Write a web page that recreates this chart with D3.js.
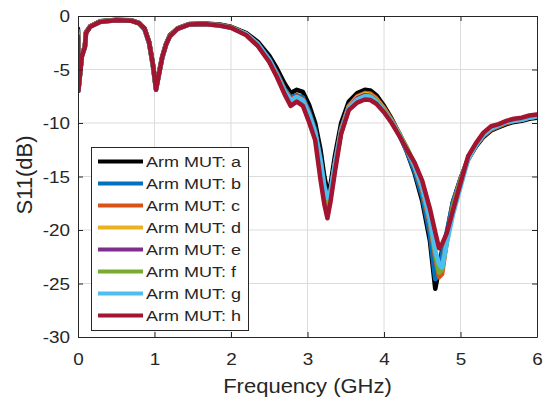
<!DOCTYPE html>
<html>
<head>
<meta charset="utf-8">
<script src="https://cdn.jsdelivr.net/npm/d3@7"></script>
<style>
body { margin: 0; background: #fff; }
text { font-family: Arial, "Liberation Sans", sans-serif; fill: #262626; }
</style>
</head>
<body>
<svg id="chart" width="544" height="401"></svg>
<script>
// frequency points (GHz)
var freq = [0, 0.005, 0.05, 0.09, 0.105, 0.16, 0.29, 0.5, 0.7, 0.8,
    0.87, 0.93, 0.98, 1.02, 1.06, 1.1, 1.15, 1.2, 1.3, 1.45,
    1.65, 1.85, 2.0,
    2.2, 2.35, 2.5, 2.6, 2.7, 2.78, 2.86, 2.94,
    3.02, 3.1, 3.17, 3.22, 3.26, 3.3, 3.36, 3.44,
    3.54, 3.65, 3.75, 3.82, 3.9, 4.0, 4.1, 4.2, 4.3,
    4.4, 4.5, 4.6, 4.67, 4.72, 4.76, 4.82, 4.9,
    5.0, 5.1, 5.2, 5.3, 5.4, 5.5, 5.6, 5.7, 5.8, 5.9, 6.0];

// S11 (dB) per arm
var armA = [-1.2, -6.9, -3.7, -2.8, -1.5, -0.95, -0.5, -0.35, -0.4, -0.65,
    -1.15, -2.4, -4.5, -6.7, -5.2, -3.8, -2.6, -1.8, -1.15, -0.75,
    -0.7, -0.8, -1.0,
    -1.6, -2.4, -3.7, -4.9, -6.3, -7.2, -6.9, -7.1,
    -8.3, -10.0, -12.5, -15.0, -16.4, -15.8, -13.0, -10.0,
    -8.0, -7.2, -6.9, -6.95, -7.4, -8.4, -9.6, -11.0, -12.7,
    -14.7, -17.3, -21.0, -25.5, -23.6, -21.8, -20.4, -17.4,
    -15.2, -13.4, -12.2, -11.3, -10.7, -10.4, -10.1, -9.9, -9.8, -9.6, -9.5];
var armB = [-1.35, -6.9, -3.7, -2.8, -1.55, -0.95, -0.5, -0.37, -0.42, -0.67,
    -1.2, -2.45, -4.6, -6.8, -5.3, -3.85, -2.65, -1.85, -1.15, -0.77,
    -0.72, -0.82, -1.05,
    -1.7, -2.6, -4.0, -5.3, -6.8, -7.6, -7.4, -7.6,
    -8.9, -10.6, -13.3, -15.9, -17.3, -16.4, -13.6, -10.5,
    -8.4, -7.6, -7.3, -7.35, -7.8, -8.7, -9.8, -11.1, -12.7,
    -14.5, -16.9, -20.4, -24.6, -24.3, -22.2, -20.2, -17.4,
    -15.2, -13.3, -12.1, -11.2, -10.6, -10.3, -10.0, -9.8, -9.7, -9.5, -9.4];
var armC = [-1.5, -6.95, -3.75, -2.85, -1.55, -0.97, -0.52, -0.38, -0.43, -0.68,
    -1.2, -2.5, -4.6, -6.8, -5.3, -3.9, -2.65, -1.85, -1.18, -0.78,
    -0.73, -0.85, -1.05,
    -1.7, -2.7, -4.1, -5.4, -6.9, -7.8, -7.5, -7.8,
    -9.1, -10.9, -13.7, -16.3, -17.6, -16.6, -13.8, -10.6,
    -8.4, -7.5, -7.2, -7.25, -7.7, -8.6, -9.7, -11.0, -12.5,
    -14.1, -16.3, -19.4, -22.6, -24.4, -24.1, -21.1, -17.8,
    -15.3, -13.4, -12.1, -11.2, -10.6, -10.3, -10.0, -9.8, -9.7, -9.5, -9.4];
var armD = [-1.55, -6.95, -3.75, -2.85, -1.58, -0.98, -0.53, -0.38, -0.44, -0.69,
    -1.25, -2.5, -4.7, -6.85, -5.35, -3.9, -2.7, -1.88, -1.18, -0.78,
    -0.74, -0.86, -1.07,
    -1.7, -2.7, -4.2, -5.5, -7.0, -7.9, -7.6, -7.9,
    -9.3, -11.0, -13.9, -16.5, -17.8, -16.8, -13.9, -10.7,
    -8.5, -7.6, -7.3, -7.35, -7.8, -8.7, -9.8, -11.0, -12.4,
    -14.0, -16.1, -19.2, -22.2, -23.6, -23.4, -21.0, -17.9,
    -15.4, -13.3, -12.0, -11.1, -10.5, -10.2, -9.9, -9.7, -9.6, -9.4, -9.3];
var armE = [-1.6, -7.0, -3.8, -2.9, -1.58, -0.98, -0.54, -0.39, -0.44, -0.69,
    -1.25, -2.55, -4.7, -6.85, -5.35, -3.95, -2.7, -1.9, -1.2, -0.79,
    -0.74, -0.87, -1.08,
    -1.7, -2.7, -4.2, -5.5, -7.0, -8.0, -7.7, -8.0,
    -9.4, -11.1, -14.0, -16.7, -18.0, -16.9, -14.0, -10.8,
    -8.6, -7.7, -7.4, -7.45, -7.9, -8.8, -9.8, -11.0, -12.4,
    -13.9, -16.0, -19.1, -22.4, -23.9, -23.6, -21.0, -17.9,
    -15.4, -13.3, -12.0, -11.1, -10.5, -10.2, -9.9, -9.7, -9.6, -9.4, -9.3];
var armF = [-1.65, -7.0, -3.8, -2.9, -1.6, -0.99, -0.54, -0.39, -0.45, -0.7,
    -1.28, -2.55, -4.75, -6.9, -5.4, -3.95, -2.7, -1.9, -1.2, -0.8,
    -0.75, -0.88, -1.09,
    -1.7, -2.7, -4.2, -5.6, -7.1, -8.0, -7.7, -8.1,
    -9.5, -11.2, -14.1, -16.8, -18.2, -17.0, -14.1, -10.9,
    -8.7, -7.8, -7.5, -7.5, -7.9, -8.8, -9.8, -11.0, -12.3,
    -13.8, -15.9, -19.0, -22.3, -24.0, -23.7, -21.1, -17.9,
    -15.4, -13.3, -12.0, -11.1, -10.5, -10.2, -9.9, -9.7, -9.6, -9.4, -9.3];
var armG = [-1.7, -7.0, -3.8, -2.9, -1.6, -1.0, -0.55, -0.4, -0.45, -0.7,
    -1.28, -2.6, -4.75, -6.9, -5.4, -4.0, -2.75, -1.92, -1.2, -0.8,
    -0.75, -0.9, -1.1,
    -1.7, -2.6, -4.1, -5.5, -7.0, -7.9, -7.6, -7.9,
    -9.2, -10.9, -13.5, -15.9, -17.0, -16.4, -13.8, -10.8,
    -8.6, -7.8, -7.5, -7.55, -8.0, -8.9, -9.9, -11.1, -12.5,
    -14.0, -16.0, -19.0, -21.9, -23.2, -23.5, -21.3, -18.6,
    -16.0, -13.4, -12.1, -11.1, -10.5, -10.2, -9.9, -9.8, -9.7, -9.5, -9.4];
var armH = [-1.9, -7.0, -3.8, -2.9, -1.6, -1.0, -0.55, -0.4, -0.45, -0.7,
    -1.2, -2.5, -4.6, -6.9, -5.4, -3.9, -2.7, -1.9, -1.2, -0.8,
    -0.75, -0.9, -1.1,
    -1.8, -2.8, -4.3, -5.7, -7.3, -8.4, -8.0, -8.4,
    -9.9, -11.6, -15.3, -17.6, -18.9, -17.4, -14.5, -11.0,
    -8.8, -8.1, -7.8, -7.85, -8.2, -9.0, -10.0, -11.2, -12.5,
    -13.7, -15.4, -18.0, -20.2, -21.7, -21.3, -20.3, -18.2,
    -15.6, -13.1, -11.9, -10.9, -10.3, -10.1, -9.8, -9.6, -9.5, -9.3, -9.2];

var seriesNames = ['Arm MUT: a', 'Arm MUT: b', 'Arm MUT: c', 'Arm MUT: d',
    'Arm MUT: e', 'Arm MUT: f', 'Arm MUT: g', 'Arm MUT: h'];
var seriesValues = [armA, armB, armC, armD, armE, armF, armG, armH];
var seriesColors = ['#000000', '#0072BD', '#D95319', '#EDB120',
    '#7E2F8E', '#77AC30', '#4DBEEE', '#A2142F'];

var xTicks = [0, 1, 2, 3, 4, 5, 6];
var yTicks = [0, -5, -10, -15, -20, -25, -30];

(function() {
    var pL = 78, pR = 537, pT = 16, pB = 337;
    var axisColor = '#262626';
    var svg = d3.select('#chart');

    var x = d3.scaleLinear().domain([0, 6]).range([pL, pR]);
    var y = d3.scaleLinear().domain([-30, 0]).range([pB, pT]);

    // grid
    var grid = svg.append('g').attr('stroke', '#dcdcdc').attr('stroke-width', 1);
    grid.selectAll('.gx').data(xTicks.slice(1, -1)).enter().append('line')
        .attr('x1', function(d) { return x(d); }).attr('x2', function(d) { return x(d); })
        .attr('y1', pT).attr('y2', pB);
    grid.selectAll('.gy').data(yTicks.slice(1, -1)).enter().append('line')
        .attr('y1', function(d) { return y(d); }).attr('y2', function(d) { return y(d); })
        .attr('x1', pL).attr('x2', pR);

    // lines
    svg.append('clipPath').attr('id', 'plotclip').append('rect')
        .attr('x', pL).attr('y', pT).attr('width', pR - pL).attr('height', pB - pT);

    var line = d3.line()
        .defined(function(d) { return d[1] != null && !isNaN(d[1]); })
        .x(function(d) { return x(d[0]); })
        .y(function(d) { return y(d[1]); });

    var lines = svg.append('g').attr('clip-path', 'url(#plotclip)');
    seriesValues.forEach(function(vals, i) {
        var pts = freq.map(function(f, j) { return [f, vals[j]]; });
        lines.append('path')
            .attr('d', line(pts))
            .attr('fill', 'none')
            .attr('stroke', seriesColors[i])
            .attr('stroke-width', 4.5)
            .attr('stroke-linejoin', 'round')
            .attr('stroke-linecap', 'round');
    });

    // axes, ticks pointing inward (matlab style)
    function fmt(d) { return String(d); }
    var xb = svg.append('g').attr('transform', 'translate(0,' + pB + ')')
        .call(d3.axisBottom(x).tickValues(xTicks).tickSize(-5).tickSizeOuter(0).tickFormat(fmt));
    var xt = svg.append('g').attr('transform', 'translate(0,' + pT + ')')
        .call(d3.axisTop(x).tickValues(xTicks).tickSize(-5).tickSizeOuter(0).tickFormat(''));
    var yl = svg.append('g').attr('transform', 'translate(' + pL + ',0)')
        .call(d3.axisLeft(y).tickValues(yTicks).tickSize(-5).tickSizeOuter(0).tickFormat(fmt));
    var yr = svg.append('g').attr('transform', 'translate(' + pR + ',0)')
        .call(d3.axisRight(y).tickValues(yTicks).tickSize(-5).tickSizeOuter(0).tickFormat(''));

    [xb, xt, yl, yr].forEach(function(g) {
        g.attr('color', axisColor).attr('font-size', 16)
            .attr('font-family', 'Arial, "Liberation Sans", sans-serif');
        g.selectAll('path, line').attr('stroke-width', 1);
    });
    xb.selectAll('text').attr('y', 28).attr('dy', 0).attr('transform', 'scale(1.18,1)');
    yl.selectAll('text').attr('x', -6.8).attr('dy', '0.36em').attr('transform', 'scale(1.18,1)');

    // axis labels
    svg.append('text')
        .attr('transform', 'translate(' + ((pL + pR) / 2) + ',393) scale(1.1,1)')
        .attr('text-anchor', 'middle').style('font-size', '20px')
        .text('Frequency (GHz)');
    svg.append('text')
        .attr('transform', 'translate(32,175) rotate(-90)')
        .attr('text-anchor', 'middle').style('font-size', '22px')
        .text('S11(dB)');

    // legend
    var lg = svg.append('g');
    lg.append('rect').attr('x', 91.5).attr('y', 147.5).attr('width', 157).attr('height', 183)
        .attr('fill', '#fff').attr('stroke', axisColor).attr('stroke-width', 1);
    seriesNames.forEach(function(name, i) {
        var cy = 161.5 + i * 22;
        lg.append('line').attr('x1', 98).attr('x2', 143).attr('y1', cy).attr('y2', cy)
            .attr('stroke', seriesColors[i]).attr('stroke-width', 4);
        lg.append('text')
            .attr('transform', 'translate(146,' + (cy + 5.5) + ') scale(1.2,1)')
            .style('font-size', '15px')
            .text(name);
    });
})();
</script>
</body>
</html>
